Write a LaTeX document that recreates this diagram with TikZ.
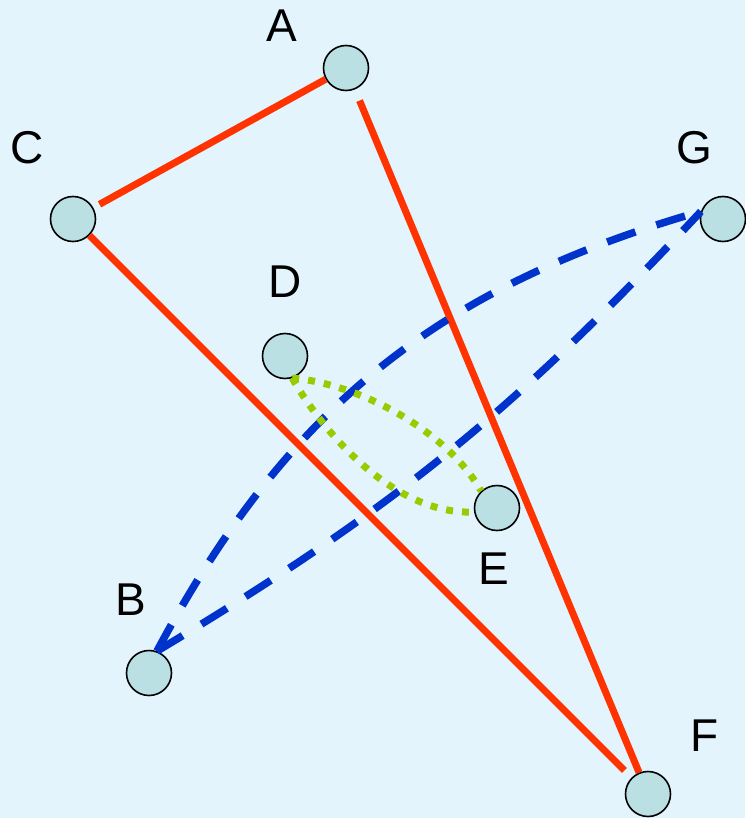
\documentclass[tikz,border=0pt]{standalone}
\usepackage{fontspec}
\setmainfont{Liberation Sans}
\definecolor{bgc}{RGB}{228,244,253}
\definecolor{nodefill}{RGB}{187,224,227}
\definecolor{redl}{RGB}{255,51,0}
\definecolor{bluel}{RGB}{0,51,204}
\definecolor{greenl}{RGB}{153,204,0}
\tikzset{
  vtx/.style={circle,draw=black,line width=1.6pt,fill=nodefill,minimum size=45pt,inner sep=0pt},
  lbl/.style={inner sep=0pt,font=\fontsize{46}{46}\selectfont},
  redline/.style={draw=redl,line width=7pt},
  blueline/.style={draw=bluel,line width=7.5pt,dash pattern=on 30pt off 22pt},
  greenline/.style={draw=greenl,line width=7pt,dash pattern=on 7pt off 9pt}
}
\begin{document}
\begin{tikzpicture}[x=1pt,y=1pt]
\fill[bgc] (0,0) rectangle (745,-818);
\useasboundingbox (0,0) rectangle (745,-818);
% nodes
\node[vtx] (A) at (346,-68) {};
\node[vtx] (C) at (73,-219) {};
\node[vtx] (G) at (723,-219) {};
\node[vtx] (D) at (285,-356) {};
\node[vtx] (E) at (497,-508) {};
\node[vtx] (B) at (149,-673) {};
\node[vtx] (F) at (648,-794) {};
% labels
\node[lbl] (lA) at (282,-26) {A};
\node[lbl] (lC) at (27,-148) {C};
\node[lbl] (lG) at (694,-148) {G};
\node[lbl] (lD) at (285,-282) {D};
\node[lbl] (lE) at (494,-569) {E};
\node[lbl] (lB) at (131,-600) {B};
\node[lbl] (lF) at (705,-736) {F};
% red lines
\draw[redline,shorten <=7pt] (C) -- (A);
\draw[redline,shorten <=12pt] (A) -- (F);
\draw[redline,shorten >=10pt] (C) -- (F);
% blue dashed curves
\draw[blueline] (B.70) to[bend left=23] (G.161);
\draw[blueline] (B.70) to[bend right=8] (G.161);
% green dotted curves
\draw[greenline] (D.288) .. controls (355,-383) and (445,-428) .. (E.133);
\draw[greenline] (D.288) .. controls (325,-435) and (395,-515) .. (E.190);
\end{tikzpicture}
\end{document}
